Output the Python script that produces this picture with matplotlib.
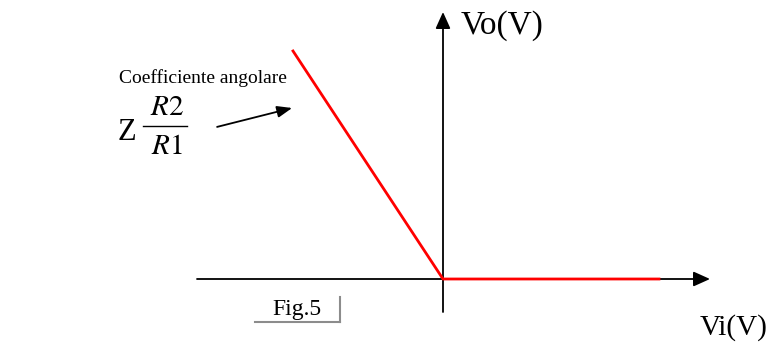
import matplotlib.pyplot as plt

plt.rcParams['font.family'] = ['Liberation Serif', 'DejaVu Serif']
plt.rcParams['mathtext.fontset'] = 'stix'

# transfer characteristic Vo(Vi): slope on the negative side, zero on the positive side
vi = [-5.0, 0.0, 7.2]
vo = [7.6, 0.0, 0.0]

x_axis = [-8.2, 8.9]
y_axis = [-1.1, 8.9]

fig = plt.figure(figsize=(7.7, 3.44), dpi=100)
ax = fig.add_axes([0, 0, 1, 1])
ax.set_xlim(-443 / 30, (770 - 443) / 30)
ax.set_ylim(-65 / 30, 279 / 30)
ax.axis('off')

arrow = dict(arrowstyle='-|>,head_length=1.0,head_width=0.45', color='black', lw=1.3,
             shrinkA=0, shrinkB=0)
ax.annotate('', xy=(x_axis[1], 0), xytext=(x_axis[0], 0), arrowprops=arrow)
ax.annotate('', xy=(0, y_axis[1]), xytext=(0, y_axis[0]), arrowprops=arrow)

ax.plot(vi, vo, color='red', lw=2, solid_joinstyle='miter', zorder=3)

ax.text(0.6, 8.45, 'Vo(V)', fontsize=24, va='center', ha='left')
ax.text(8.55, -1.63, 'Vi(V)', fontsize=21, va='center', ha='left')

ax.text(-5.2, 6.7, 'Coefficiente angolare', fontsize=14, va='center', ha='right')
ax.text(-10.85, 4.9, 'Z', fontsize=22, va='center', ha='left')
ax.text(-9.2, 5.7, '$R2$', fontsize=21, va='center', ha='center')
ax.plot([-10.0, -8.53], [5.1, 5.1], color='black', lw=1)
ax.text(-9.2, 4.4, '$R1$', fontsize=21, va='center', ha='center')
ax.annotate('', xy=(-5.03, 5.7), xytext=(-7.53, 5.07),
            arrowprops=dict(arrowstyle='-|>,head_length=0.9,head_width=0.35',
                            color='black', lw=1.3, shrinkA=0, shrinkB=0))

# figure caption box
ax.text(-5.7, -1.03, 'Fig.5', fontsize=17, va='center', ha='left')
ax.plot([-6.27, -3.43], [-1.43, -1.43], color='#8c8c8c', lw=1.5)
ax.plot([-3.43, -3.43], [-0.6, -1.43], color='#8c8c8c', lw=1.5)

fig.savefig('out.png', dpi=100)
